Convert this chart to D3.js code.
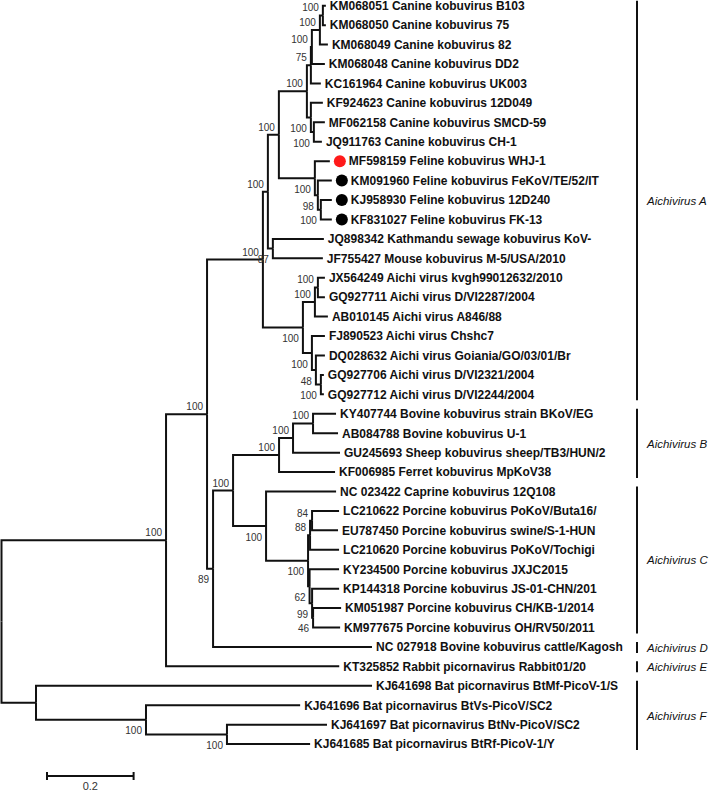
<!DOCTYPE html>
<html>
<head>
<meta charset="utf-8">
<script src="https://cdn.jsdelivr.net/npm/d3@7"></script>
<style>
  html, body { margin: 0; padding: 0; background: #fff; }
  svg { display: block; }
</style>
</head>
<body>
<svg id="chart" width="709" height="790"></svg>
<script>
// ---------------- DATA ----------------
const leafLabels = [
  "KM068051 Canine kobuvirus B103",
  "KM068050 Canine kobuvirus 75",
  "KM068049 Canine kobuvirus 82",
  "KM068048 Canine kobuvirus DD2",
  "KC161964 Canine kobuvirus UK003",
  "KF924623 Canine kobuvirus 12D049",
  "MF062158 Canine kobuvirus SMCD-59",
  "JQ911763 Canine kobuvirus CH-1",
  "MF598159 Feline kobuvirus WHJ-1",
  "KM091960 Feline kobuvirus FeKoV/TE/52/IT",
  "KJ958930 Feline kobuvirus 12D240",
  "KF831027 Feline kobuvirus FK-13",
  "JQ898342 Kathmandu sewage kobuvirus KoV-",
  "JF755427 Mouse kobuvirus M-5/USA/2010",
  "JX564249 Aichi virus kvgh99012632/2010",
  "GQ927711 Aichi virus D/VI2287/2004",
  "AB010145 Aichi virus A846/88",
  "FJ890523 Aichi virus Chshc7",
  "DQ028632 Aichi virus Goiania/GO/03/01/Br",
  "GQ927706 Aichi virus D/VI2321/2004",
  "GQ927712 Aichi virus D/VI2244/2004",
  "KY407744 Bovine kobuvirus strain BKoV/EG",
  "AB084788 Bovine kobuvirus U-1",
  "GU245693 Sheep kobuvirus sheep/TB3/HUN/2",
  "KF006985 Ferret kobuvirus MpKoV38",
  "NC 023422 Caprine kobuvirus 12Q108",
  "LC210622 Porcine kobuvirus PoKoV/Buta16/",
  "EU787450 Porcine kobuvirus swine/S-1-HUN",
  "LC210620 Porcine kobuvirus PoKoV/Tochigi",
  "KY234500 Porcine kobuvirus JXJC2015",
  "KP144318 Porcine kobuvirus JS-01-CHN/201",
  "KM051987 Porcine kobuvirus CH/KB-1/2014",
  "KM977675 Porcine kobuvirus OH/RV50/2011",
  "NC 027918 Bovine kobuvirus cattle/Kagosh",
  "KT325852 Rabbit picornavirus Rabbit01/20",
  "KJ641698 Bat picornavirus BtMf-PicoV-1/S",
  "KJ641696 Bat picornavirus BtVs-PicoV/SC2",
  "KJ641697 Bat picornavirus BtNv-PicoV/SC2",
  "KJ641685 Bat picornavirus BtRf-PicoV-1/Y"
];

// Sub-trees (Newick; leaves are 1-based indices into leafLabels, internal labels = bootstrap)
const canineNwk = "(((((1:0.0069,2:0.0069)100:0.0069,3:0.0185)100:0.0185,4:0.030)100:0.0023,5:0.023)75:0.0092,(6:0.0277,(7:0.0254,8:0.0185)100:0.0069)100:0.0092)100";
const felineNwk = "(9:0.0346,(10:0.0323,(11:0.0254,12:0.0254)100:0.0069)98:0.0069)100";
const kathMouseNwk = "(13:0.1178,14:0.1155)87";
const aichiNwk = "(((15:0.0162,16:0.0162)100:0.0069,17:0.030)100:0.0277,(18:0.030,(19:0.0208,(20:0.0069,21:0.0069)100:0.0115)48:0.0092)100:0.0208)100";
const bovineNwk = "(((22:0.0531,23:0.0577)100:0.0462,24:0.1085)100:0.0323,25:0.1293)100";
const porcineNwk = "(26:0.1617,(((27:0.0624,28:0.060)84:0.0046,29:0.067)88:0.0046,(30:0.0681,(31:0.0624,(32:0.0647,33:0.0624)46:0.0023)99:0.0058)62:0.0035)100:0.097)100";
const batNwk = "(36:0.776,(37:0.356,(38:0.231,39:0.192)100:0.187)100:0.254)";

// Leaves carrying a circle marker (1-based index -> kind)
const markedLeaves = [
  { leaf: 9,  kind: "study" },
  { leaf: 10, kind: "reference" },
  { leaf: 11, kind: "reference" },
  { leaf: 12, kind: "reference" }
];

// Clade brackets on the right
const clades = [
  { name: "Aichivirus A", first: 1,  last: 21 },
  { name: "Aichivirus B", first: 22, last: 25 },
  { name: "Aichivirus C", first: 26, last: 33 },
  { name: "Aichivirus D", first: 34, last: 34 },
  { name: "Aichivirus E", first: 35, last: 35 },
  { name: "Aichivirus F", first: 36, last: 39 }
];

const scaleBarLength = 0.2;

// ---------------- BUILD TREE ----------------
const cfNwk = `(${canineNwk}:0.0647,${felineNwk}:0.0831)100`;
const n268Nwk = `(${cfNwk}:0.0254,${kathMouseNwk}:0.0115)100`;
const aNodeNwk = `(${n268Nwk}:0.0115,${aichiNwk}:0.0924)100`;
const bcNwk = `(${bovineNwk}:0.1062,${porcineNwk}:0.0762)100`;
const bdNwk = `(${bcNwk}:0.0462,34:0.367)89`;
const adNwk = `(${aNodeNwk}:0.129,${bdNwk}:0.0139)100`;
const aeNwk = `(${adNwk}:0.0947,35:0.400)100`;
const treeNwk = `(${aeNwk}:0.380,${batNwk}:0.0797);`;

function parseNewick(s) {
  let i = 0;
  function node() {
    const n = {};
    if (s[i] === "(") {
      i++;
      n.children = [node()];
      while (s[i] === ",") { i++; n.children.push(node()); }
      i++; // ')'
    }
    let lab = "";
    while (i < s.length && !":,);".includes(s[i])) lab += s[i++];
    n.label = lab;
    n.length = 0;
    if (s[i] === ":") {
      i++;
      let num = "";
      while (i < s.length && !",);".includes(s[i])) num += s[i++];
      n.length = +num;
    }
    return n;
  }
  return node();
}

const root = d3.hierarchy(parseNewick(treeNwk));
root.each(d => { d.dist = d.parent ? d.parent.dist + d.data.length : 0; });

// ---------------- SCALES ----------------
const font = "'Liberation Sans', Arial, Helvetica, sans-serif";
const xScale = d3.scaleLinear().domain([0, 1]).range([1.5, 434.5]);
const yScale = d3.scaleLinear().domain([0, leafLabels.length - 1]).range([5.7, 744.1]);

const leaves = root.leaves();
leaves.forEach((d, i) => { d.y = yScale(i); });
root.eachAfter(d => {
  d.x = xScale(d.dist);
  if (d.children) d.y = (d.children[0].y + d.children[d.children.length - 1].y) / 2;
});

const svg = d3.select("#chart");
const g = svg.append("g");

// branches
g.append("g").selectAll("path")
  .data(root.descendants().filter(d => d.parent))
  .join("path")
  .attr("d", d => `M${d.parent.x},${d.parent.y}V${d.y}H${d.x}`)
  .attr("fill", "none")
  .attr("stroke", "#111")
  .attr("stroke-width", 2)
  .attr("stroke-linejoin", "miter");

// bootstrap labels
const internal = root.descendants().filter(d => d.children && d.parent && d.data.label !== "");
g.append("g").selectAll("text")
  .data(internal)
  .join("text")
  .attr("x", d => d.x - 4)
  .attr("y", d => d.parent.children[0] === d ? d.y - 4 : d.y + 14.5)
  .attr("text-anchor", "end")
  .attr("font-family", font)
  .attr("font-size", 10)
  .attr("fill", "#333")
  .text(d => d.data.label);

// markers
const markerMap = new Map(markedLeaves.map(m => [m.leaf, m.kind]));
const markerColor = { study: "#ff1a1a", reference: "#000" };
g.append("g").selectAll("circle")
  .data(leaves.filter(d => markerMap.has(+d.data.label)))
  .join("circle")
  .attr("cx", d => d.x + 10)
  .attr("cy", d => d.y)
  .attr("r", 6)
  .attr("fill", d => markerColor[markerMap.get(+d.data.label)]);

// leaf labels
g.append("g").selectAll("text")
  .data(leaves)
  .join("text")
  .attr("x", d => d.x + (markerMap.has(+d.data.label) ? 19 : 4))
  .attr("y", d => d.y)
  .attr("dy", "0.36em")
  .attr("font-family", font)
  .attr("font-size", 12)
  .attr("font-weight", "bold")
  .attr("fill", "#111")
  .text(d => leafLabels[+d.data.label - 1]);

// clade brackets
const barX = 637;
const cg = g.append("g").selectAll("g").data(clades).join("g");
cg.append("line")
  .attr("x1", barX).attr("x2", barX)
  .attr("y1", d => Math.max(0, yScale(d.first - 1) - 5))
  .attr("y2", d => yScale(d.last - 1) + 6)
  .attr("stroke", "#111").attr("stroke-width", 2);
cg.append("text")
  .attr("x", barX + 10)
  .attr("y", d => (Math.max(0, yScale(d.first - 1) - 5) + yScale(d.last - 1) + 6) / 2)
  .attr("dy", "0.36em")
  .attr("font-family", font)
  .attr("font-size", 11.5)
  .attr("font-style", "italic")
  .attr("fill", "#111")
  .text(d => d.name);

// scale bar
const sbX = 47, sbY = 776;
const sbW = xScale(scaleBarLength) - xScale(0);
const sb = g.append("g");
sb.append("line").attr("x1", sbX).attr("x2", sbX + sbW).attr("y1", sbY).attr("y2", sbY)
  .attr("stroke", "#111").attr("stroke-width", 2);
[sbX, sbX + sbW].forEach(x => sb.append("line").attr("x1", x).attr("x2", x)
  .attr("y1", sbY - 4).attr("y2", sbY + 4).attr("stroke", "#111").attr("stroke-width", 2));
sb.append("text").attr("x", sbX + sbW / 2).attr("y", 789.5)
  .attr("text-anchor", "middle").attr("font-family", font).attr("font-size", 11)
  .attr("fill", "#333").text(String(scaleBarLength));
</script>
</body>
</html>
